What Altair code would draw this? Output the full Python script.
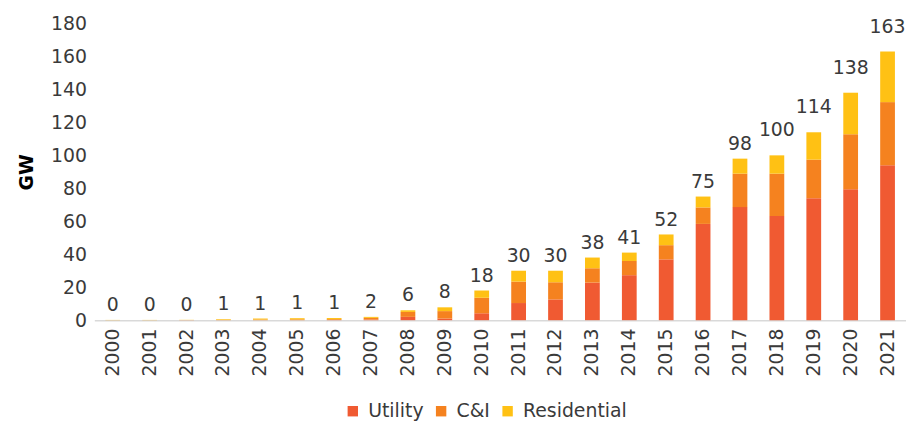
import altair as alt
import pandas as pd

years = [str(y) for y in range(2000, 2022)]
utility = [0, 0, 0, 0, 0, 0, 0.1, 0.4, 2.0, 1.0, 4.2, 10.4, 12.6, 22.8, 27.3, 36.9, 58.4, 68.6, 63.2, 74.0, 79.4, 94.0]
cni = [0.05, 0.05, 0.1, 0.2, 0.4, 0.5, 0.5, 1.0, 3.0, 4.5, 9.4, 13.0, 10.4, 8.7, 8.6, 8.6, 10.0, 20.3, 25.7, 23.4, 33.4, 38.3]
residential = [0.1, 0.1, 0.1, 0.4, 0.6, 0.7, 0.7, 0.6, 1.0, 2.3, 4.4, 6.6, 7.0, 6.5, 5.1, 6.5, 6.6, 9.1, 11.1, 16.6, 25.2, 30.7]
total_labels = [0, 0, 0, 1, 1, 1, 1, 2, 6, 8, 18, 30, 30, 38, 41, 52, 75, 98, 100, 114, 138, 163]
y_ticks = [0, 20, 40, 60, 80, 100, 120, 140, 160, 180]

segments = ["Utility", "C&I", "Residential"]
colors = ["#F05A32", "#F5821F", "#FFC114"]

rows = []
for i, y in enumerate(years):
    for k, (name, vals) in enumerate(zip(segments, [utility, cni, residential])):
        rows.append({"year": y, "segment": name, "order": k, "value": vals[i]})
df = pd.DataFrame(rows)

tot = pd.DataFrame({
    "year": years,
    "total": [u + c + r for u, c, r in zip(utility, cni, residential)],
    "label": [str(v) for v in total_labels],
    "labelnum": total_labels,
})

FONT = "DejaVu Sans"
TXT = "#3a3a3a"
FS = 19

x_axis = alt.Axis(title=None, labelAngle=-90, labelFontSize=FS, labelFont=FONT,
                  labelColor=TXT, ticks=False, domainColor="#D9D9D9",
                  domainWidth=1.5, labelPadding=8, labelOverlap=False)
x_scale = alt.Scale(paddingInner=0.6, paddingOuter=0.3)
y_axis = alt.Axis(title="GW", values=y_ticks, grid=False,
                  ticks=False, domain=False, labelFontSize=FS, labelFont=FONT,
                  labelColor=TXT, labelPadding=8, labelOverlap=False,
                  titleFont=FONT, titleFontSize=FS, titleFontWeight="bold",
                  titleColor="#000000", titlePadding=14)
y_scale = alt.Scale(domain=[0, 180], nice=False)

bars = alt.Chart(df).mark_bar().encode(
    x=alt.X("year:N", sort=years, scale=x_scale, axis=x_axis),
    y=alt.Y("value:Q", stack="zero", scale=y_scale, axis=y_axis),
    color=alt.Color("segment:N", sort=segments,
                    scale=alt.Scale(domain=segments, range=colors),
                    legend=alt.Legend(title=None, orient="none", direction="horizontal",
                                      legendX=251, legendY=381, symbolType="square",
                                      symbolSize=110, symbolStrokeWidth=0,
                                      labelFontSize=FS, labelFont=FONT, labelColor=TXT,
                                      labelOffset=6, columnPadding=8, padding=0)),
    order=alt.Order("order:Q", sort="ascending"),
)

labels_small = alt.Chart(tot).transform_filter("datum.labelnum < 100").mark_text(
    fontSize=FS, font=FONT, color=TXT, baseline="alphabetic", dy=-9
).encode(x=alt.X("year:N", sort=years, scale=x_scale, axis=x_axis),
         y=alt.Y("total:Q", scale=y_scale, axis=y_axis), text="label:N")

labels_big = alt.Chart(tot).transform_filter("datum.labelnum >= 100").mark_text(
    fontSize=FS, font=FONT, color=TXT, baseline="alphabetic", dy=-19
).encode(x=alt.X("year:N", sort=years, scale=x_scale, axis=x_axis),
         y=alt.Y("total:Q", scale=y_scale, axis=y_axis), text="label:N")

chart = alt.layer(bars, labels_small, labels_big).properties(
    width=818, height=299,
    background="white",
    autosize=alt.AutoSizeParams(type="none"),
    padding={"left": 87, "top": 14, "right": 0, "bottom": 100},
).configure_view(stroke=None).configure_axis(labelOverlap=False)

chart.save("out.html", embed_options={"renderer": "svg", "actions": False})
